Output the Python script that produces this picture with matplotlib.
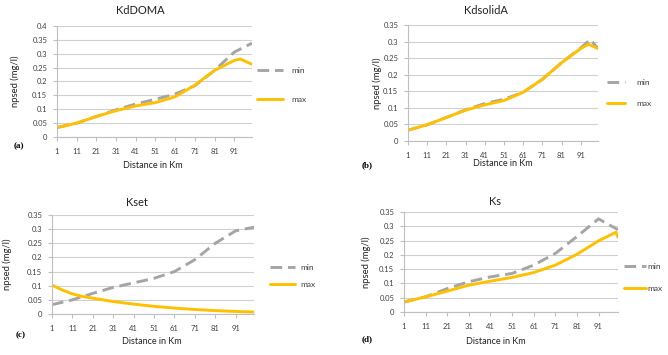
import matplotlib
matplotlib.use("Agg")
import matplotlib.pyplot as plt
from matplotlib.ticker import FuncFormatter, MultipleLocator

plt.rcParams['font.family'] = ['Lato', 'DejaVu Sans']

W, H = 668, 355

# ---------------- data ----------------
titles = ["KdDOMA", "KdsolidA", "Kset", "Ks"]
panel_tags = ["(a)", "(b)", "(c)", "(d)"]
xtick_labels = [1, 11, 21, 31, 41, 51, 61, 71, 81, 91]

a_min_km = [1, 11, 21, 31, 41, 51, 61, 71, 81, 91, 100]
a_min = [0.034, 0.050, 0.074, 0.098, 0.119, 0.136, 0.155, 0.185, 0.240, 0.306, 0.338]
a_max_km = [1, 11, 21, 31, 41, 51, 61, 71, 81, 91, 94, 100]
a_max = [0.034, 0.050, 0.074, 0.095, 0.112, 0.124, 0.145, 0.187, 0.240, 0.276, 0.281, 0.262]

b_min_km = [1, 11, 21, 31, 41, 51, 61, 71, 81, 91, 96, 100]
b_min = [0.0325, 0.049, 0.071, 0.094, 0.113, 0.126, 0.147, 0.186, 0.236, 0.281, 0.306, 0.279]
b_max_km = [1, 11, 21, 31, 41, 51, 61, 71, 81, 91, 95, 100]
b_max = [0.0325, 0.049, 0.071, 0.093, 0.109, 0.122, 0.147, 0.186, 0.236, 0.279, 0.292, 0.279]

c_min_km = [1, 11, 21, 31, 41, 51, 61, 71, 81, 91, 100]
c_min = [0.033, 0.050, 0.073, 0.094, 0.110, 0.126, 0.150, 0.192, 0.250, 0.294, 0.307]
c_max_km = [1, 6, 11, 16, 21, 31, 41, 51, 61, 71, 81, 91, 100]
c_max = [0.102, 0.085, 0.071, 0.062, 0.056, 0.044, 0.035, 0.027, 0.021, 0.016, 0.012, 0.009, 0.007]

d_min_km = [1, 11, 21, 31, 41, 51, 61, 71, 81, 91, 100]
d_min = [0.035, 0.053, 0.082, 0.106, 0.123, 0.135, 0.164, 0.205, 0.264, 0.326, 0.288]
d_max_km = [1, 11, 21, 31, 41, 51, 61, 71, 81, 91, 99, 100]
d_max = [0.035, 0.053, 0.073, 0.094, 0.108, 0.121, 0.138, 0.164, 0.202, 0.249, 0.279, 0.262]

series = [
    (a_min_km, a_min, a_max_km, a_max),
    (b_min_km, b_min, b_max_km, b_max),
    (c_min_km, c_min, c_max_km, c_max),
    (d_min_km, d_min, d_max_km, d_max),
]
ymax = [0.4, 0.35, 0.35, 0.35]

# ---------------- layout (pixels) ----------------
# left, right, top, bottom
boxes = [(57, 252, 26, 137), (408, 598, 25, 141), (52, 254, 215, 314), (404, 618, 212, 312)]
title_pos = [(140, 10), (486, 10), (137, 202), (495, 202)]
xlabel_pos = [(153, 165), (503, 163), (152, 342), (496, 342)]
ylabel_x = [15, 377, 7, 366]
tag_pos = [(19, 146), (367, 165), (21, 335), (367, 339)]
# legend: handle x start, y center of pair, handle length, text pad, spacing
leg = [(257, 85, 3.1, 1.0, 2.6), (607, 93, 2.1, 1.4, 1.65), (270, 276, 3.0, 0.6, 1.2), (624, 277.5, 2.6, 0.2, 1.8)]

GRAY = '#A5A5A5'
ORANGE = '#FFC000'
TXT = '#404040'

fig = plt.figure(figsize=(W / 100, H / 100), dpi=100)

def fx(px):
    return px / W

def fy(py):
    return 1 - py / H

fmt = FuncFormatter(lambda v, p: ('%.2f' % v).rstrip('0').rstrip('.') if v != 0 else '0')

for i in range(4):
    l, r, t, b = boxes[i]
    ax = fig.add_axes([fx(l), fy(b), fx(r) - fx(l), fy(t) - fy(b)])
    mk, mv, xk, xv = series[i]
    ax.plot(mk, mv, color=GRAY, lw=2.1, dashes=(4, 2), label='min', solid_capstyle='butt')
    ax.plot(xk, xv, color=ORANGE, lw=2.1, label='max', solid_capstyle='round')
    ax.set_xlim(1, 100)
    ax.set_ylim(0, ymax[i])
    ax.set_xticks(xtick_labels)
    ax.yaxis.set_major_locator(MultipleLocator(0.05))
    ax.yaxis.set_major_formatter(fmt)
    ax.grid(axis='y', color='#D0D0D0', lw=0.8)
    ax.set_axisbelow(True)
    for s in ['top', 'right']:
        ax.spines[s].set_visible(False)
    for s in ['left', 'bottom']:
        ax.spines[s].set_color('#BFBFBF')
        ax.spines[s].set_linewidth(0.8)
    ax.tick_params(axis='x', length=3, width=0.8, color='#BFBFBF', pad=5, labelsize=5.5, labelcolor=TXT)
    ax.tick_params(axis='y', length=3, width=0.8, color='#BFBFBF', pad=4, labelsize=5.5, labelcolor=TXT)

    tx, ty = title_pos[i]
    ax.set_title(titles[i], fontsize=8, color='#222222', pad=0,
                 x=(tx - l) / (r - l), y=(b - ty) / (b - t), va='center')
    ax.set_xlabel('Distance in Km', fontsize=6.5, color='#222222')
    xx, xy = xlabel_pos[i]
    ax.xaxis.set_label_coords(fx(xx), fy(xy), transform=fig.transFigure)
    ax.xaxis.label.set_va('center')
    ax.set_ylabel('npsed (mg/l)', fontsize=6.8, color='#222222')
    ax.yaxis.set_label_coords(fx(ylabel_x[i]), fy((t + b) / 2), transform=fig.transFigure)
    ax.yaxis.label.set_va('center')

    hx, hy, hl, hp, ls = leg[i]
    ax.legend(loc='center left', bbox_to_anchor=(fx(hx), fy(hy)), bbox_transform=fig.transFigure,
              frameon=False, fontsize=6, handlelength=hl, handletextpad=hp, labelspacing=ls,
              borderpad=0, borderaxespad=0, labelcolor=TXT)

    px, py = tag_pos[i]
    fig.text(fx(px), fy(py), panel_tags[i], fontsize=6.5, fontweight='bold',
             family='Liberation Serif', ha='center', va='center')

fig.savefig('out.png', dpi=100)
